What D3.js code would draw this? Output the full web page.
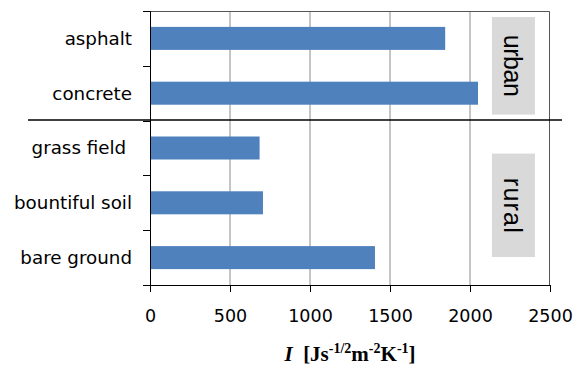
<!DOCTYPE html>
<html>
<head>
<meta charset="utf-8">
<script src="https://cdn.jsdelivr.net/npm/d3@7"></script>
<style>
  body { margin: 0; background: #fff; }
  svg { display: block; }
</style>
</head>
<body>
<div id="chart"></div>
<script>
// data
var categories = ["asphalt", "concrete", "grass field ", "bountiful soil", "bare ground"];
var values = [1845, 2050, 685, 706, 1406];
var xTicks = [0, 500, 1000, 1500, 2000, 2500];
var groups = [
    { name: "urban", from: "asphalt", to: "concrete", inTop: 6, inBottom: 6, len: 62 },
    { name: "rural", from: "grass field ", to: "bare ground", inTop: 33, inBottom: 28, len: 55 }
];

var W = 583, H = 374;
var margin = { top: 11, right: 33, bottom: 89, left: 150 },
    width = W - margin.left - margin.right,
    height = H - margin.top - margin.bottom;

var svg = d3.select("#chart")
    .append("svg")
    .attr("width", W)
    .attr("height", H);

var g = svg.append("g")
    .attr("transform", "translate(" + margin.left + "," + margin.top + ")");

var x = d3.scaleLinear()
    .domain([0, 2500])
    .range([0, width]);

var y = d3.scaleBand()
    .domain(categories)
    .range([0, height])
    .paddingInner(0.58)
    .paddingOuter(0.29);

var step = y.step();
var bandTop = function (c) { return y(c) - step * 0.29; };

// gridlines
g.selectAll(".grid")
    .data(xTicks.slice(1, -1))
    .enter()
    .append("line")
    .attr("x1", function (d) { return x(d); })
    .attr("x2", function (d) { return x(d); })
    .attr("y1", 0)
    .attr("y2", height)
    .attr("stroke", "#8c8c8c")
    .attr("stroke-width", 1);

// top and right border
g.append("path")
    .attr("d", "M0,0.5H" + (x(2500) - 0.5) + "V" + height)
    .attr("fill", "none")
    .attr("stroke", "#555")
    .attr("stroke-width", 1);

// group boxes
groups.forEach(function (grp) {
    var top = bandTop(grp.from) + grp.inTop;
    var bottom = bandTop(grp.to) + step - grp.inBottom;
    var bx = x(2137), bw = x(2406) - x(2137);
    g.append("rect")
        .attr("x", bx)
        .attr("y", top)
        .attr("width", bw)
        .attr("height", bottom - top)
        .attr("fill", "#d9d9d9");
    var cx = bx + bw / 2, cy = (top + bottom) / 2;
    g.append("text")
        .attr("transform", "translate(" + (cx - 9) + "," + cy + ") rotate(90)")
        .attr("text-anchor", "middle")
        .attr("font-family", "Liberation Sans, Arial, sans-serif")
        .attr("font-size", 25)
        .attr("textLength", grp.len)
        .attr("lengthAdjust", "spacing")
        .text(grp.name);
});

// bars
g.selectAll(".bar")
    .data(values)
    .enter()
    .append("rect")
    .attr("x", x(0))
    .attr("y", function (d, i) { return y(categories[i]); })
    .attr("width", function (d) { return x(d) - x(0); })
    .attr("height", y.bandwidth())
    .attr("fill", "#4f81bd");

// y axis line and ticks at band edges
g.append("line")
    .attr("x1", 0.5).attr("x2", 0.5)
    .attr("y1", 0).attr("y2", height)
    .attr("stroke", "#000");
var edges = categories.map(bandTop).concat([height]);
g.selectAll(".ytick")
    .data(edges)
    .enter()
    .append("line")
    .attr("x1", -7).attr("x2", 0)
    .attr("y1", function (d) { return Math.round(d) + 0.5; })
    .attr("y2", function (d) { return Math.round(d) + 0.5; })
    .attr("stroke", "#000");

// y labels
g.selectAll(".ylab")
    .data(categories)
    .enter()
    .append("text")
    .attr("x", -18)
    .attr("y", function (d) { return y(d) + y.bandwidth() / 2; })
    .attr("dy", "0.35em")
    .attr("text-anchor", "end")
    .style("white-space", "pre")
    .attr("font-family", "DejaVu Sans, sans-serif")
    .attr("font-size", 18.3)
    .text(function (d) { return d; });

// x axis
var xAxis = g.append("g")
    .attr("transform", "translate(0," + height + ")")
    .call(d3.axisBottom(x).tickValues(xTicks).tickSize(7).tickPadding(18).tickFormat(d3.format("d")));
xAxis.select(".domain").attr("stroke", "#000");
xAxis.selectAll("line").attr("stroke", "#000");
xAxis.selectAll("text")
    .attr("font-family", "DejaVu Sans, sans-serif")
    .attr("font-size", 17.5)
    .attr("fill", "#000");

// urban / rural divider
var divY = Math.round(margin.top + bandTop("grass field ")) - 1;
svg.append("line")
    .attr("x1", 28).attr("x2", 562)
    .attr("y1", divY).attr("y2", divY)
    .attr("stroke", "#000")
    .attr("stroke-width", 1.6);

// x axis title
var title = svg.append("text")
    .attr("x", 350)
    .attr("y", 361)
    .attr("text-anchor", "middle")
    .attr("font-family", "Liberation Serif, Times New Roman, serif")
    .attr("font-weight", "bold")
    .attr("font-size", 21);
title.append("tspan").attr("font-style", "italic").text("I");
title.append("tspan").text("\u2002[Js");
title.append("tspan").attr("font-size", 14).attr("dy", -8).text("-1/2");
title.append("tspan").attr("dy", 8).text("m");
title.append("tspan").attr("font-size", 14).attr("dy", -8).text("-2");
title.append("tspan").attr("dy", 8).text("K");
title.append("tspan").attr("font-size", 14).attr("dy", -8).text("-1");
title.append("tspan").attr("dy", 8).text("]");
</script>
</body>
</html>
